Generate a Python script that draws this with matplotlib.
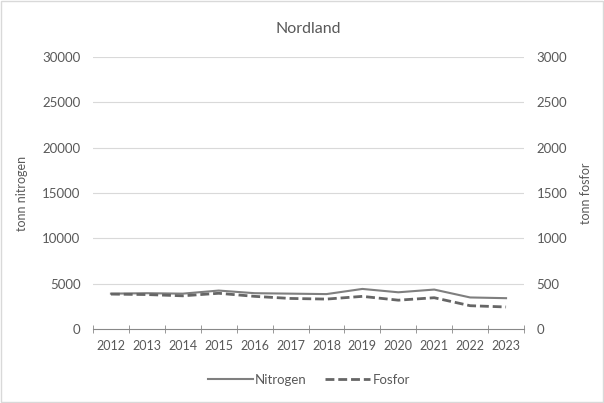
import numpy as np
import matplotlib.pyplot as plt
from matplotlib.patches import Rectangle

years = ["2012", "2013", "2014", "2015", "2016", "2017",
         "2018", "2019", "2020", "2021", "2022", "2023"]
nitrogen = [3900, 3950, 3900, 4240, 3950, 3900, 3850, 4420, 4050, 4350, 3480, 3400]
fosfor = [385, 380, 366, 394, 360, 337, 330, 360, 318, 345, 257, 243]

txt = "#595959"
plt.rcParams["font.family"] = ["Lato", "DejaVu Sans"]

fig = plt.figure(figsize=(6.04, 4.03), dpi=100)
fig.patches.append(Rectangle((0.002, 0.002), 0.996, 0.996, transform=fig.transFigure,
                             fill=False, edgecolor="#d9d9d9", linewidth=1.0))
ax = fig.add_axes([93 / 604, 0.1836, 431 / 604, 0.675])
ax2 = ax.twinx()

x = np.arange(len(years))
ax.plot(x, nitrogen, color="#7f7f7f", linewidth=1.5, label="Nitrogen")
ax2.plot(x, fosfor, color="#666666", linewidth=2.0, linestyle=(0, (3.2, 1.4)), label="Fosfor")

ax.set_xlim(-0.5, len(years) - 0.5)
ax.set_ylim(0, 30000)
ax2.set_ylim(0, 3000)
ax.set_yticks(np.arange(0, 30001, 5000))
ax2.set_yticks(np.arange(0, 3001, 500))
for v in np.arange(5000, 30001, 5000):
    ax.axhline(v, color="#d9d9d9", linewidth=0.8, zorder=0)

for a in (ax, ax2):
    for s in a.spines.values():
        s.set_visible(False)
    a.tick_params(axis="y", length=0, labelsize=9.5, labelcolor=txt, pad=9)

ax.spines["bottom"].set_visible(True)
ax.spines["bottom"].set_color("#888888")
ax.set_xticks(x)
ax.set_xticklabels(years)
ax.set_xticks(np.arange(-0.5, len(years), 1), minor=True)
ax.tick_params(axis="x", which="major", length=0, labelsize=9, labelcolor=txt, pad=8)
ax.tick_params(axis="x", which="minor", length=6, direction="inout", color="#888888")

fig.text(22 / 604, 1 - 193 / 403, "tonn nitrogen", rotation=90, fontsize=9,
         color=txt, ha="center", va="center")
fig.text(586 / 604, 1 - 193 / 403, "tonn fosfor", rotation=90, fontsize=9,
         color=txt, ha="center", va="center")
ax.set_title("Nordland", fontsize=11.5, color=txt, pad=17)

h1, l1 = ax.get_legend_handles_labels()
h2, l2 = ax2.get_legend_handles_labels()
fig.legend(h1 + h2, l1 + l2, loc="center", bbox_to_anchor=(309 / 604, 1 - 380 / 403), ncol=2,
           frameon=False, fontsize=9.5, labelcolor=txt, handlelength=3.4,
           handletextpad=0.2, columnspacing=1.4)

fig.savefig("out.png", dpi=100)
